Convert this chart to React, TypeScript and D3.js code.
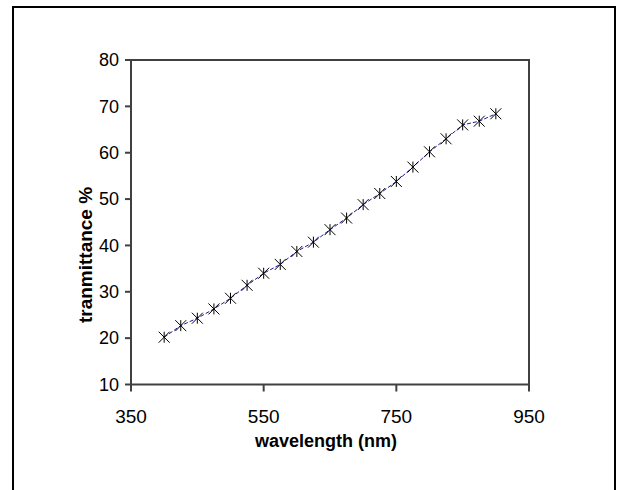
import React from "react";
import * as d3 from "d3";

const wavelengths = [400, 425, 450, 475, 500, 525, 550, 575, 600, 625, 650, 675, 700, 725, 750, 775, 800, 825, 850, 875, 900];
const transmittance = [20.2, 22.7, 24.3, 26.3, 28.6, 31.4, 34.0, 35.9, 38.7, 40.7, 43.4, 45.9, 48.8, 51.2, 53.8, 56.9, 60.2, 63.0, 66.0, 66.8, 68.4];
const xTicks = [350, 550, 750, 950];
const yTicks = [10, 20, 30, 40, 50, 60, 70, 80];
const xTitle = "wavelength (nm)";
const yTitle = "tranmittance %";

const W = 619;
const H = 490;
const plot = { left: 131, right: 529, top: 60, bottom: 384.5 };
const font = "'Liberation Sans', Arial, sans-serif";

export default function App() {
  const x = d3.scaleLinear().domain([350, 950]).range([plot.left, plot.right]);
  const y = d3.scaleLinear().domain([10, 80]).range([plot.bottom, plot.top]);
  const pts = wavelengths.map((w, i) => [x(w), y(transmittance[i])] as [number, number]);
  const line = d3.line()(pts) || "";
  const s = 5.5;
  const marker = (cx: number, cy: number) =>
    `M${cx - s},${cy - s}L${cx + s},${cy + s}M${cx - s},${cy + s}L${cx + s},${cy - s}M${cx},${cy - s}L${cx},${cy + s}`;

  return (
    <svg width={W} height={H} style={{ position: "absolute", left: 0, top: 0, background: "#fff" }}>
      <rect x={0} y={0} width={W} height={H} fill="#fff" />
      <rect x={13} y={7} width={602} height={520} fill="none" stroke="#000" strokeWidth={2} />
      <rect
        x={plot.left}
        y={plot.top}
        width={plot.right - plot.left}
        height={plot.bottom - plot.top}
        fill="none"
        stroke="#404040"
        strokeWidth={2}
      />
      {yTicks.map((t) => (
        <g key={"y" + t}>
          <line x1={plot.left - 6} x2={plot.left} y1={y(t)} y2={y(t)} stroke="#404040" strokeWidth={2} />
          <text x={plot.left - 12} y={y(t)} dy="0.35em" textAnchor="end" fontFamily={font} fontSize={18} fill="#000">
            {t}
          </text>
        </g>
      ))}
      {xTicks.map((t) => (
        <g key={"x" + t}>
          <line x1={x(t)} x2={x(t)} y1={plot.bottom} y2={plot.bottom + 7} stroke="#404040" strokeWidth={2} />
          <text x={x(t)} y={423} textAnchor="middle" fontFamily={font} fontSize={19} fill="#000">
            {t}
          </text>
        </g>
      ))}
      <path d={line} fill="none" stroke="#1a1a99" strokeWidth={1} strokeDasharray="4,2" />
      {pts.map(([cx, cy], i) => (
        <path key={i} d={marker(cx, cy)} stroke="#000" strokeWidth={1} fill="none" />
      ))}
      <text x={326} y={447} textAnchor="middle" fontFamily={font} fontSize={18} fontWeight="bold" fill="#000">
        {xTitle}
      </text>
      <text
        transform={`translate(92,255) rotate(-90)`}
        textAnchor="middle"
        fontFamily={font}
        fontSize={19}
        fontWeight="bold"
        fill="#000"
      >
        {yTitle}
      </text>
    </svg>
  );
}
